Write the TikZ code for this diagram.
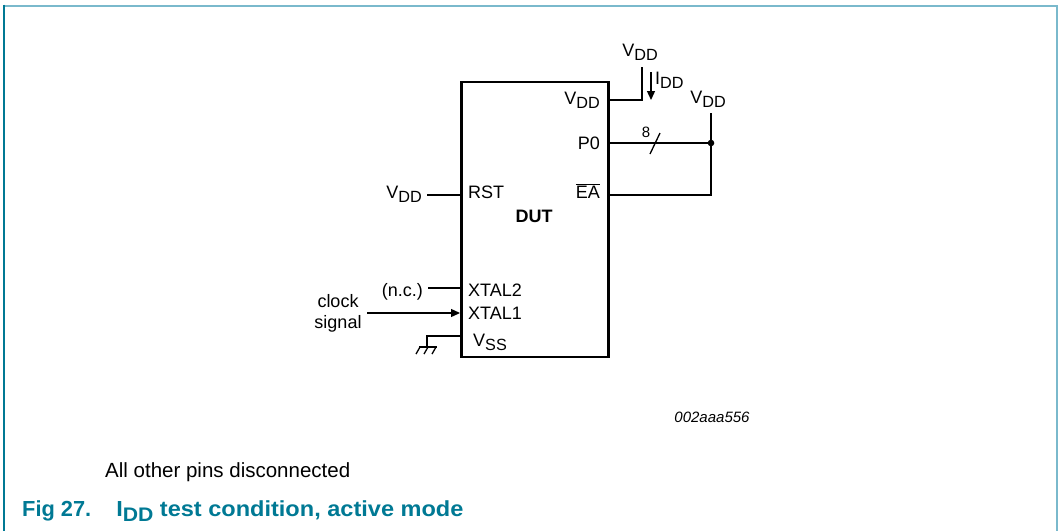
\documentclass[tikz,border=0pt]{standalone}
\usepackage{fontspec}
\setmainfont{Liberation Sans}
\usetikzlibrary{arrows.meta}
\definecolor{nxpteal}{RGB}{0,121,148}
\definecolor{lightteal}{RGB}{122,185,204}
\newcommand{\lsub}[1]{\raisebox{-0.45ex}{\scalebox{0.9}{#1}}}
\begin{document}
\begin{tikzpicture}[x=1pt,y=-1pt,
  lbl/.style={font=\fontsize{18}{21}\selectfont, inner sep=0pt},
  wire/.style={line width=1.3pt},
  tip/.style={-{Triangle[length=9pt,width=8pt]}}]
\useasboundingbox (0,0) rectangle (1059,531);
% frame
\draw[lightteal, line width=2pt] (4,5.5) -- (1056.5,5.5) -- (1056.5,531);
\draw[nxpteal, line width=1.5pt] (4,4.5) -- (4,531);
% DUT box
\node[draw, line width=2.8pt, minimum width=147pt, minimum height=275pt, inner sep=0pt, anchor=north west] (dut) at (460,80.5) {};
\node[lbl, font=\fontsize{18}{21}\selectfont\bfseries, anchor=base] (dutl) at (534,222) {DUT};
% pin labels inside
\node[lbl, anchor=base east] (pvdd) at (600,104) {V\lsub{DD}};
\node[lbl, anchor=base east] (pp0) at (600,149) {P0};
\node[lbl, anchor=base east] (pea) at (600,198) {$\overline{\mbox{EA}}$};
\node[lbl, anchor=base west] (prst) at (468,198) {RST};
\node[lbl, anchor=base west] (px2) at (468,296) {XTAL2};
\node[lbl, anchor=base west] (px1) at (468,319) {XTAL1};
\node[lbl, anchor=base west] (pvss) at (473,346) {V\lsub{SS}};
% pin points on box edge
\coordinate (evdd) at (608,100);
\coordinate (ep0) at (608,143);
\coordinate (eea) at (608,195);
\coordinate (erst) at (460,195);
\coordinate (ex2) at (460,288);
\coordinate (ex1) at (460,313);
\coordinate (evss) at (460,336);
% external labels
\node[lbl, anchor=base] (vddtop) at (640,56) {V\lsub{DD}};
\node[lbl, anchor=base west] (idd) at (655,84) {I\lsub{DD}};
\node[lbl, anchor=base] (vddr) at (708,103) {V\lsub{DD}};
\node[lbl, anchor=base east] (vddl) at (422,198) {V\lsub{DD}};
\node[lbl, anchor=base east] (nc) at (423,296) {(n.c.)};
\node[lbl, anchor=base] (clk) at (338,307) {clock};
\node[lbl, anchor=base] (sig) at (338,328) {signal};
\node[font=\fontsize{15}{17}\selectfont, inner sep=0pt, anchor=base] (eight) at (646,137) {8};
% VDD supply wire
\coordinate (vtop) at (642,67);
\draw[wire] (evdd) -- (vtop |- evdd) -- (vtop);
\coordinate (ia) at (651,72);
\coordinate (ib) at (651,100);
\draw[wire, tip] (ia) -- (ib);
% P0 bus
\coordinate (jn) at (711,143);
\coordinate (vr) at (711,113);
\draw[wire] (ep0) -- (jn);
\coordinate (s1) at (650,154);
\coordinate (s2) at (660,133);
\draw[wire] (s1) -- (s2);
\draw[wire] (vr) -- (jn) -- (jn |- eea) -- (eea);
\fill (jn) circle (3.3pt);
% left pins
\coordinate (rl) at (427,195);
\draw[wire] (erst) -- (rl);
\coordinate (x2l) at (428,288);
\draw[wire] (ex2) -- (x2l);
\coordinate (x1l) at (367,313);
\draw[wire, tip] (x1l) -- (ex1);
% ground
\coordinate (g0) at (427,336);
\coordinate (g1) at (427,347);
\draw[wire] (evss) -- (g0) -- (g1);
\coordinate (gb1) at (419,347);
\coordinate (gb2) at (437,347);
\draw[wire] (gb1) -- (gb2);
\foreach \gx in {420,428,436} {
  \draw[wire] (\gx,347) -- ++(-4,7);
}
% texts
\node[font=\fontsize{15}{18}\selectfont\itshape, inner sep=0pt, anchor=base] (code) at (712,422) {002aaa556};
\node[font=\fontsize{20.5}{24}\selectfont, inner sep=0pt, anchor=base west] (note) at (105,477) {All other pins disconnected};
\node[font=\fontsize{21.8}{25}\selectfont\bfseries, text=nxpteal, inner sep=0pt, anchor=base west] (title) at (22,516.5) {Fig 27.\hspace{25pt}\scalebox{1.08}[1]{I\lsub{DD} test condition, active mode}};
\end{tikzpicture}
\end{document}
